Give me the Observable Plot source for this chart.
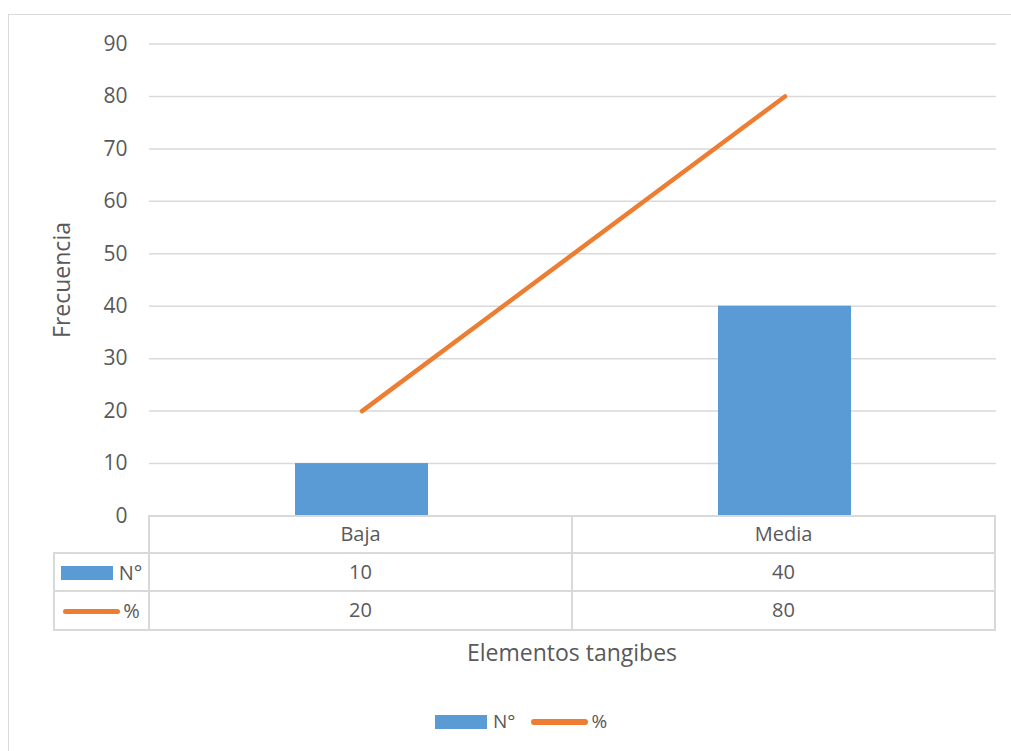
<!DOCTYPE html>
<html>
<head>
<meta charset="utf-8">
<script src="https://cdn.jsdelivr.net/npm/d3@7"></script>
<script src="https://cdn.jsdelivr.net/npm/@observablehq/plot@0.6"></script>
<style>
  html, body { margin: 0; padding: 0; background: #fff; width: 1011px; height: 751px; overflow: hidden; }
  body { position: relative; font-family: "Open Sans", sans-serif; color: #595959; }
  #borde { position: absolute; left: 8px; top: 14px; width: 1200px; height: 900px;
           border-left: 1.5px solid #d9d9d9; border-top: 1.5px solid #d9d9d9; }
  #grafico { position: absolute; left: 0; top: 0; }
  table.datos { position: absolute; border-collapse: collapse; table-layout: fixed; font-size: 20px; color: #595959; }
  table.datos td { border: 2px solid #d9d9d9; text-align: center; padding: 0; line-height: 1; white-space: nowrap; }
  table.datos td.vacio { border-top-style: hidden; border-left-style: hidden; }
  .muestra { display: inline-block; vertical-align: middle; }
  .etq { vertical-align: middle; }
  #titulo-x { position: absolute; text-align: center; font-size: 23px; line-height: 1; }
  #leyenda { position: absolute; display: flex; align-items: center; font-size: 19px; line-height: 1; }
</style>
</head>
<body>
<div id="borde"></div>
<div id="grafico"></div>
<div id="titulo-x"></div>
<div id="leyenda"></div>
<script>
// Frecuencia por nivel de "Elementos tangibes"
const categorias = ["Baja", "Media"];
const frecuencia = [10, 40];   // N°
const porcentaje = [20, 80];   // %
const ticksY = [0, 10, 20, 30, 40, 50, 60, 70, 80, 90];
const nombreSerieN = "N°";
const nombreSerieP = "%";
const tituloY = "Frecuencia";
const tituloX = "Elementos tangibes";

const colorN = "#5B9BD5";
const colorP = "#ED7D31";
const gris = "#d9d9d9";

const filas = categorias.map((c, i) => ({cat: c, n: frecuencia[i], p: porcentaje[i]}));

const W = 1011, H = 700;
const baseY = 515.5;

const chart = Plot.plot({
  width: W,
  height: H,
  marginTop: 43.5,
  marginBottom: H - baseY,
  marginLeft: 149,
  marginRight: 15,
  style: {fontFamily: "Open Sans, sans-serif", color: "#595959", background: "transparent"},
  x: {type: "band", domain: categorias, padding: 0, axis: null},
  y: {domain: [0, 90]},
  marks: [
    Plot.ruleY(ticksY, {stroke: gris, strokeWidth: 1.5}),
    Plot.axisY({ticks: ticksY, tickSize: 0, tickPadding: 22, fontSize: 21, label: null}),
    Plot.text([tituloY], {frameAnchor: "left", dx: -87, rotate: -90, textAnchor: "middle", fontSize: 23, fill: "#595959"}),
    Plot.barY(filas, {x: "cat", y: "n", fill: colorN, insetLeft: 145, insetRight: 145}),
    Plot.line(filas, {x: "cat", y: "p", stroke: colorP, strokeWidth: 4.5, strokeLinecap: "round"})
  ]
});
document.getElementById("grafico").appendChild(chart);

// Tabla de datos alineada con las bandas de la escala x
const xs = chart.scale("x");
const bw = xs.bandwidth;
const x0 = xs.range[0];
const izq = 54;
const anchos = [x0 - izq, ...categorias.map(() => bw)];
const altos = [37, 38.5, 38.5];

const tabla = d3.select("body").append("table").attr("class", "datos")
  .style("left", (izq - 1) + "px")
  .style("top", (baseY - 1) + "px");
const cg = tabla.append("colgroup");
anchos.forEach(w => cg.append("col").style("width", w + "px"));
tabla.style("width", (d3.sum(anchos) + 2) + "px");

const tb = tabla.append("tbody");
// fila de categorías
const f0 = tb.append("tr").style("height", altos[0] + "px");
f0.append("td").attr("class", "vacio");
categorias.forEach(c => f0.append("td").text(c));

// fila N°
const f1 = tb.append("tr").style("height", altos[1] + "px");
const c1 = f1.append("td");
c1.append("span").attr("class", "muestra")
  .style("width", "52px").style("height", "14px").style("background", colorN).style("margin-right", "6px");
c1.append("span").attr("class", "etq").text(nombreSerieN);
frecuencia.forEach(v => f1.append("td").text(v));

// fila %
const f2 = tb.append("tr").style("height", altos[2] + "px");
const c2 = f2.append("td");
c2.append("span").attr("class", "muestra")
  .style("width", "57px").style("height", "5px").style("border-radius", "3px").style("background", colorP).style("margin-right", "3px");
c2.append("span").attr("class", "etq").text(nombreSerieP);
porcentaje.forEach(v => f2.append("td").text(v));

// Título del eje x
d3.select("#titulo-x")
  .style("left", x0 + "px").style("width", (bw * categorias.length) + "px")
  .style("top", "641px")
  .text(tituloX);

// Leyenda
const ley = d3.select("#leyenda").style("left", "435px").style("top", "712px");
ley.append("span").style("display", "inline-block").style("width", "52px").style("height", "14px").style("background", colorN);
ley.append("span").style("margin-left", "6px").text(nombreSerieN);
ley.append("span").style("display", "inline-block").style("width", "57px").style("height", "6px")
  .style("border-radius", "3px").style("background", colorP).style("margin-left", "16px");
ley.append("span").style("margin-left", "3px").text(nombreSerieP);
</script>
</body>
</html>
